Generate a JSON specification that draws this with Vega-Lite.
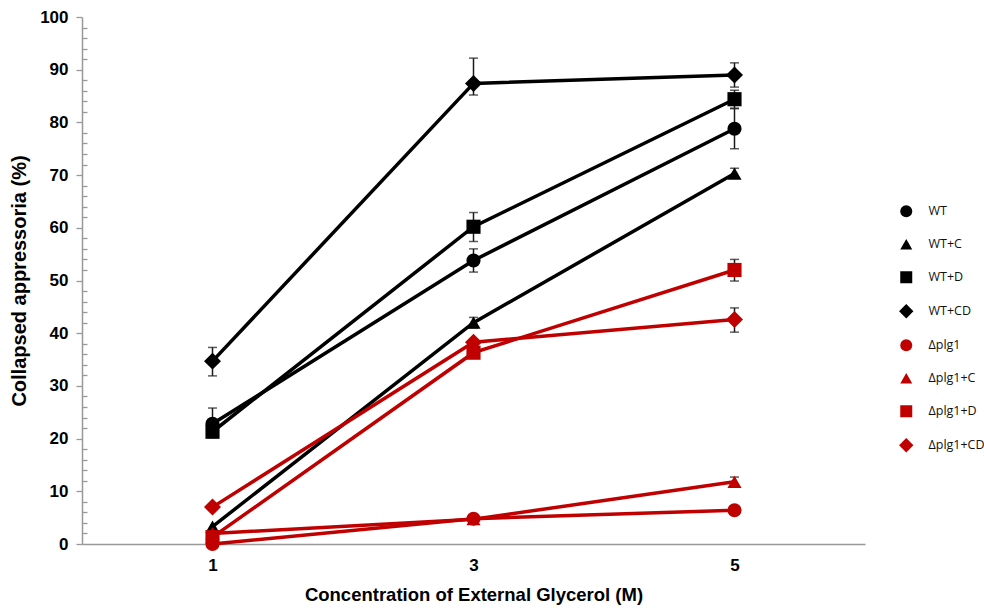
{
  "$schema": "https://vega.github.io/schema/vega-lite/v6.json",
  "width": 783,
  "height": 527,
  "autosize": "none",
  "padding": {"left": 82, "top": 17, "right": 119, "bottom": 65},
  "background": "white",
  "config": {"view": {"stroke": null}, "font": "Liberation Sans"},
  "data": {
    "values": [
      {"series": "WT", "conc": "1", "y": 22.8, "lo": 20.2, "hi": 25.8},
      {"series": "WT", "conc": "3", "y": 53.8, "lo": 51.6, "hi": 56.0},
      {"series": "WT", "conc": "5", "y": 78.8, "lo": 75.0, "hi": 82.6},
      {"series": "WT+C", "conc": "1", "y": 3.3, "lo": null, "hi": null},
      {"series": "WT+C", "conc": "3", "y": 42.0, "lo": 41.0, "hi": 43.0},
      {"series": "WT+C", "conc": "5", "y": 70.3, "lo": 69.4, "hi": 71.3},
      {"series": "WT+D", "conc": "1", "y": 21.3, "lo": null, "hi": null},
      {"series": "WT+D", "conc": "3", "y": 60.2, "lo": 57.4, "hi": 62.9},
      {"series": "WT+D", "conc": "5", "y": 84.4, "lo": 82.7, "hi": 86.1},
      {"series": "WT+CD", "conc": "1", "y": 34.7, "lo": 31.9, "hi": 37.3},
      {"series": "WT+CD", "conc": "3", "y": 87.4, "lo": 85.2, "hi": 92.2},
      {"series": "WT+CD", "conc": "5", "y": 89.0, "lo": 86.7, "hi": 91.3},
      {"series": "Δplg1", "conc": "1", "y": 0.0, "lo": null, "hi": null},
      {"series": "Δplg1", "conc": "3", "y": 4.8, "lo": null, "hi": null},
      {"series": "Δplg1", "conc": "5", "y": 6.4, "lo": null, "hi": null},
      {"series": "Δplg1+C", "conc": "1", "y": 2.0, "lo": null, "hi": null},
      {"series": "Δplg1+C", "conc": "3", "y": 4.7, "lo": null, "hi": null},
      {"series": "Δplg1+C", "conc": "5", "y": 11.8, "lo": 11.0, "hi": 12.7},
      {"series": "Δplg1+D", "conc": "1", "y": 1.3, "lo": null, "hi": null},
      {"series": "Δplg1+D", "conc": "3", "y": 36.3, "lo": 35.5, "hi": 37.1},
      {"series": "Δplg1+D", "conc": "5", "y": 52.0, "lo": 49.9, "hi": 54.0},
      {"series": "Δplg1+CD", "conc": "1", "y": 7.0, "lo": null, "hi": null},
      {"series": "Δplg1+CD", "conc": "3", "y": 38.3, "lo": null, "hi": null},
      {"series": "Δplg1+CD", "conc": "5", "y": 42.6, "lo": 40.2, "hi": 44.8}
    ]
  },
  "encoding": {
    "x": {
      "field": "conc",
      "type": "ordinal",
      "scale": {"type": "point", "padding": 0.5, "domain": ["1", "3", "5"]},
      "axis": {
        "title": "Concentration of External Glycerol (M)",
        "labelAngle": 0,
        "ticks": false,
        "domainColor": "#999999",
        "domainWidth": 1.5,
        "labelFont": "Liberation Sans",
        "labelFontWeight": "bold",
        "labelFontSize": 17,
        "labelColor": "#000000",
        "labelPadding": 13,
        "titleFont": "Liberation Sans",
        "titleFontWeight": "bold",
        "titleFontSize": 18.5,
        "titleColor": "#000000",
        "titlePadding": 12
      }
    }
  },
  "layer": [
    {
      "transform": [{"filter": "isValid(datum.lo)"}],
      "mark": {"type": "errorbar", "ticks": {"size": 9}, "thickness": 1.5, "color": "#1a1a1a"},
      "encoding": {
        "y": {"field": "lo", "type": "quantitative", "title": "Collapsed appressoria (%)"},
        "y2": {"field": "hi"}
      }
    },
    {
      "mark": {"type": "line", "strokeWidth": 3.5},
      "encoding": {
        "y": {
          "field": "y",
          "type": "quantitative",
          "scale": {"domain": [0, 100], "nice": false},
          "axis": {
            "title": "Collapsed appressoria (%)",
            "grid": false,
            "values": [0,2,4,6,8,10,12,14,16,18,20,22,24,26,28,30,32,34,36,38,40,42,44,46,48,50,52,54,56,58,60,62,64,66,68,70,72,74,76,78,80,82,84,86,88,90,92,94,96,98,100],
            "tickCount": 60,
            "labelExpr": "datum.value % 10 === 0 ? datum.label : ''",
            "labelOverlap": false,
            "labelFlush": false,
            "tickSize": {"condition": {"test": "datum.value % 10 === 0", "value": 6}, "value": -5},
            "tickColor": "#999999",
            "tickWidth": 1.3,
            "domainColor": "#999999",
            "domainWidth": 1.5,
            "labelFont": "Liberation Sans",
            "labelFontWeight": "bold",
            "labelFontSize": 17,
            "labelColor": "#000000",
            "labelPadding": 8,
            "titleFont": "Liberation Sans",
            "titleFontWeight": "bold",
            "titleFontSize": 20,
            "titleColor": "#000000",
            "titlePadding": 10
          }
        },
        "color": {
          "field": "series",
          "type": "nominal",
          "scale": {
            "domain": ["WT", "WT+C", "WT+D", "WT+CD", "Δplg1", "Δplg1+C", "Δplg1+D", "Δplg1+CD"],
            "range": ["#000000", "#000000", "#000000", "#000000", "#C00000", "#C00000", "#C00000", "#C00000"]
          },
          "legend": {
            "title": null,
            "orient": "none",
            "legendX": 818,
            "legendY": 188,
            "padding": 0,
            "symbolSize": 144,
            "symbolStrokeWidth": 0,
            "symbolOpacity": 1,
            "rowPadding": 20,
            "labelOffset": 16,
            "labelFont": "Open Sans",
            "labelFontSize": 12.5,
            "labelColor": "#111111"
          }
        }
      }
    },
    {
      "mark": {"type": "point", "filled": true, "opacity": 1, "size": 200},
      "encoding": {
        "y": {"field": "y", "type": "quantitative", "title": "Collapsed appressoria (%)"},
        "color": {"field": "series", "type": "nominal"},
        "shape": {
          "field": "series",
          "type": "nominal",
          "scale": {
            "domain": ["WT", "WT+C", "WT+D", "WT+CD", "Δplg1", "Δplg1+C", "Δplg1+D", "Δplg1+CD"],
            "range": ["circle", "triangle-up", "square", "M0,-1.2L1.2,0L0,1.2L-1.2,0Z", "circle", "triangle-up", "square", "M0,-1.2L1.2,0L0,1.2L-1.2,0Z"]
          }
        }
      }
    }
  ]
}
